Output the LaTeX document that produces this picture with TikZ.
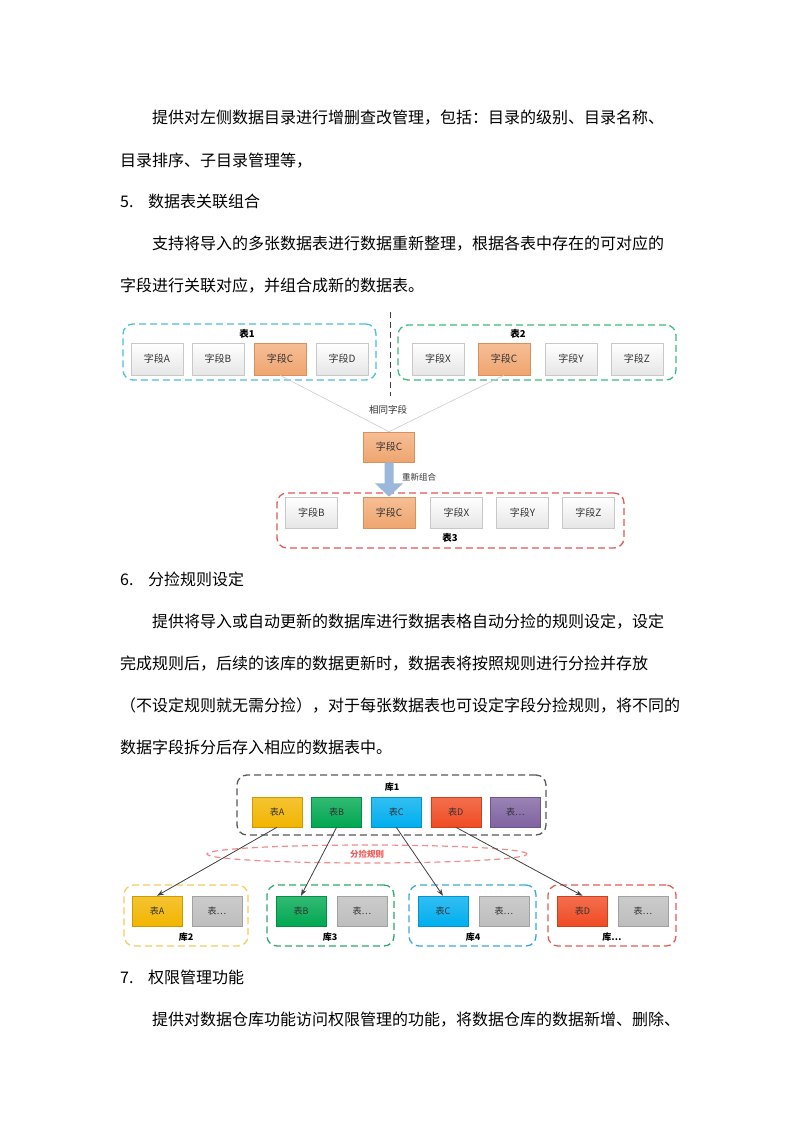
\documentclass[tikz,border=0pt]{standalone}
\usepackage{fontspec}
\setmainfont{Noto Sans CJK SC}
\usetikzlibrary{arrows.meta,shapes.geometric}

\XeTeXlinebreaklocale "zh"
\XeTeXlinebreakskip=0pt plus 2pt

\definecolor{cyanline}{HTML}{4BC0D9}
\definecolor{greenline}{HTML}{3EBB7E}
\definecolor{redline}{HTML}{E0575B}
\definecolor{fldline}{HTML}{C8C8C8}
\definecolor{fldgray}{HTML}{E6E6E6}
\definecolor{orgtop}{HTML}{F6BE96}
\definecolor{orgbot}{HTML}{EFA56F}
\definecolor{orgline}{HTML}{D8915C}
\definecolor{linkgray}{HTML}{CCCCCC}
\definecolor{sepgray}{HTML}{404040}
\definecolor{bigblue}{HTML}{9BB7D9}
\definecolor{kuline}{HTML}{595959}
\definecolor{ruleline}{HTML}{F28B8B}
\definecolor{ruletext}{HTML}{F25C5C}
\definecolor{yelline}{HTML}{F5CD5C}
\definecolor{grnline}{HTML}{2EA86E}
\definecolor{bluline}{HTML}{3AA9D9}
\definecolor{redline2}{HTML}{E35D52}
\definecolor{tabA}{HTML}{F2B500}
\definecolor{tabB}{HTML}{00A851}
\definecolor{tabC}{HTML}{00AEEF}
\definecolor{tabD}{HTML}{F04B23}
\definecolor{tabE}{HTML}{8064A2}
\definecolor{tabG}{HTML}{BEBEBE}
\definecolor{txtdark}{HTML}{333333}

\newcommand{\bodyfont}{\fontsize{16}{16}\selectfont}
\newcommand{\jl}[2]{\makebox[#1][s]{#2}}

\tikzset{
  para/.style={anchor=base west, inner sep=0pt, font=\bodyfont},
  grp/.style={draw=#1, dash pattern=on 7pt off 4pt, line width=1.3pt, rounded corners=10pt, inner sep=0pt},
  gtitle/.style={inner sep=0pt, font=\fontsize{9.5}{9.5}\selectfont\bfseries, text=black},
  fld/.style={draw=fldline, line width=0.6pt, top color=white, bottom color=fldgray, minimum width=52pt, minimum height=32pt, inner sep=0pt, font=\fontsize{10}{10}\selectfont, text=txtdark},
  fldc/.style={fld, draw=orgline, top color=orgtop, bottom color=orgbot},
  tbl/.style={draw=#1!85!black, line width=0.5pt, top color=#1!80!white, bottom color=#1, minimum width=50pt, minimum height=30pt, inner sep=0pt, font=\fontsize{9}{9}\selectfont, text=txtdark},
  small/.style={inner sep=0pt, font=\fontsize{8.5}{8.5}\selectfont, text=txtdark},
  link/.style={draw=linkgray, line width=0.6pt},
  moveto/.style={draw=sepgray, line width=0.8pt, -{Stealth[length=7pt,width=5pt]}},
}

\begin{document}
\begin{tikzpicture}[x=1pt,y=-1pt]
\useasboundingbox[fill=white] (0,0) rectangle (800,1132);

% text above
\node[para] (p1a) at (152,123) {\jl{516pt}{提供对左侧数据目录进行增删查改管理，包括：目录的级别、目录名称、}};
\node[para] (p1b) at (120,166) {目录排序、子目录管理等，};
\node[para] (h5) at (120,207) {\makebox[28pt][l]{5.}数据表关联组合};
\node[para] (p5a) at (152,249) {\jl{516pt}{支持将导入的多张数据表进行数据重新整理，根据各表中存在的可对应的}};
\node[para] (p5b) at (120,291) {字段进行关联对应，并组合成新的数据表。};

% table groups
\node[grp=cyanline, minimum width=253pt, minimum height=56pt] (t1) at (249.5,352) {};
\node[grp=greenline, minimum width=278pt, minimum height=55pt] (t2) at (537,352.5) {};
\node[gtitle] (t1l) at (247,334) {表1};
\node[gtitle] (t2l) at (518,334) {表2};
\node[fld] (a1) at (157,359) {字段A};
\node[fld] (b1) at (218,359) {字段B};
\node[fldc] (c1) at (280,359) {字段C};
\node[fld] (d1) at (342,359) {字段D};
\node[fld] (x2) at (438,359) {字段X};
\node[fldc] (c2) at (504,359) {字段C};
\node[fld] (y2) at (571,359) {字段Y};
\node[fld] (z2) at (637,359) {字段Z};
\draw[sepgray, line width=0.9pt, dash pattern=on 6pt off 4pt] (390,312) -- (390,396);

% common field
\node[fldc, minimum width=51pt, minimum height=30pt] (cm) at (389,447) {字段C};
\node[inner sep=0pt, font=\fontsize{9.5}{9.5}\selectfont, text=txtdark] (same) at (388,410) {相同字段};
\draw[link] (c1.south) -- (cm.north);
\draw[link] (c2.south) -- (cm.north);

% new table
\node[grp=redline, minimum width=347pt, minimum height=55pt] (t3) at (450.5,520.5) {};
\node[fld, minimum height=31pt] (b3) at (311.5,512.5) {字段B};
\node[fldc, minimum height=31pt] (c3) at (389,512.5) {字段C};
\node[fld, minimum height=31pt] (x3) at (456.5,512.5) {字段X};
\node[fld, minimum height=31pt] (y3) at (522.5,512.5) {字段Y};
\node[fld, minimum height=31pt] (z3) at (588.5,512.5) {字段Z};
\node[gtitle] (t3l) at (450,538) {表3};
\fill[bigblue] ([xshift=-4.5pt]cm.south) -- ([xshift=4.5pt]cm.south)
  -- ([xshift=4.5pt,yshift=-21pt]cm.south) -- ([xshift=14pt,yshift=-21pt]cm.south)
  -- (c3.north) -- ([xshift=-14pt,yshift=-21pt]cm.south)
  -- ([xshift=-4.5pt,yshift=-21pt]cm.south) -- cycle;
\node[small] (regroup) at (419,477) {重新组合};

% text middle
\node[para] (h6) at (120,585) {\makebox[28pt][l]{6.}分捡规则设定};
\node[para] (p6a) at (152,627) {\jl{516pt}{提供将导入或自动更新的数据库进行数据表格自动分捡的规则设定，设定}};
\node[para] (p6b) at (120,669) {\jl{540pt}{完成规则后，后续的该库的数据更新时，数据表将按照规则进行分捡并存放}};
\node[para] (p6c) at (120,711) {\jl{552pt}{（不设定规则就无需分捡），对于每张数据表也可设定字段分捡规则，将不同的}};
\node[para] (p6d) at (120,753) {数据字段拆分后存入相应的数据表中。};

% source store
\node[grp=kuline, minimum width=309pt, minimum height=60pt] (k1) at (391.5,805) {};
\node[gtitle, font=\fontsize{9}{9}\selectfont\bfseries] (k1l) at (392,787) {库1};
\node[tbl=tabA] (ta) at (277,812) {表A};
\node[tbl=tabB] (tb) at (336.6,812) {表B};
\node[tbl=tabC] (tc) at (396.2,812) {表C};
\node[tbl=tabD] (td) at (455.8,812) {表D};
\node[tbl=tabE] (te) at (515.4,812) {表…};

% rule
\node[ellipse, draw=ruleline, line width=1.2pt, dash pattern=on 6pt off 4pt, minimum width=320pt, minimum height=18pt, inner sep=0pt, font=\fontsize{8.5}{8.5}\selectfont\bfseries, text=ruletext] (rule) at (367,854) {分捡规则};

% target stores
\node[grp=yelline, minimum width=124pt, minimum height=61pt] (k2) at (186,915.5) {};
\node[grp=grnline, minimum width=127pt, minimum height=61pt] (k3) at (330.5,915.5) {};
\node[grp=bluline, minimum width=127pt, minimum height=61pt] (k4) at (472.5,915.5) {};
\node[grp=redline2, minimum width=128pt, minimum height=61pt] (k5) at (612,915.5) {};
\node[tbl=tabA] (la) at (157,911) {表A};
\node[tbl=tabG] (g2) at (217,911) {表…};
\node[tbl=tabB] (lb) at (301,911) {表B};
\node[tbl=tabG] (g3) at (362,911) {表…};
\node[tbl=tabC] (lc) at (443,911) {表C};
\node[tbl=tabG] (g4) at (504,911) {表…};
\node[tbl=tabD] (ld) at (582.5,911) {表D};
\node[tbl=tabG] (g5) at (643,911) {表…};
\node[gtitle, font=\fontsize{9}{9}\selectfont\bfseries] (k2l) at (186,937) {库2};
\node[gtitle, font=\fontsize{9}{9}\selectfont\bfseries] (k3l) at (330,937) {库3};
\node[gtitle, font=\fontsize{9}{9}\selectfont\bfseries] (k4l) at (473,937) {库4};
\node[gtitle, font=\fontsize{9}{9}\selectfont\bfseries] (k5l) at (612,937) {库…};
\draw[moveto] (ta.south) -- (la.north);
\draw[moveto] (tb.south) -- (lb.north);
\draw[moveto] (tc.south) -- (lc.north);
\draw[moveto] (td.south) -- (ld.north);

% text below
\node[para] (h7) at (120,983) {\makebox[28pt][l]{7.}权限管理功能};
\node[para] (p7a) at (152,1025) {提供对数据仓库功能访问权限管理的功能，将数据仓库的数据新增、删除、};
\end{tikzpicture}
\end{document}
